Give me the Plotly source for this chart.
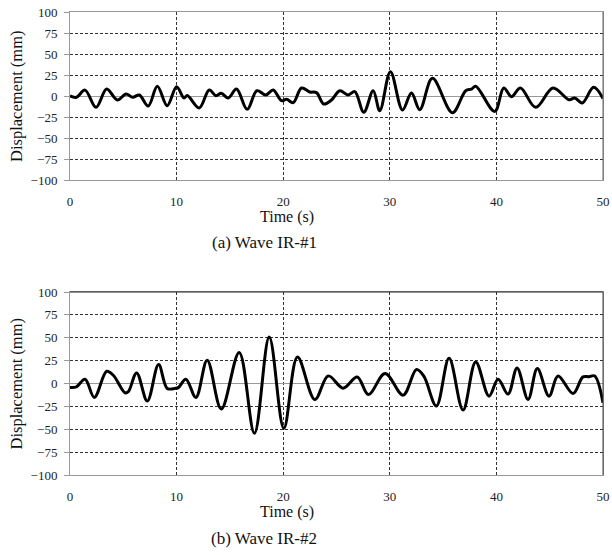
import plotly.graph_objects as go

# Wave IR-#1 (time s, displacement mm) - read from extrema
t1 = [0, 0.6, 1.41, 2.44, 3.44, 4.44, 5.25, 5.88, 6.5, 7.34, 8.19, 9.12, 10.0, 10.69, 11.0, 12.12,
      13.06, 13.69, 14.19, 14.84, 15.62, 16.62, 17.53, 18.37, 19.06, 19.84, 20.31, 20.94, 21.72,
      22.5, 23.12, 23.81, 24.53, 25.31, 26.09, 26.72, 27.56, 28.44, 29.06, 30.06, 31.19, 32.03,
      32.81, 34.0, 35.87, 37.12, 37.66, 38.06, 39.84, 40.69, 41.41, 42.25, 43.69, 45.31, 46.81,
      47.34, 48.06, 49.12, 50.0]
d1 = [0, -1.5, 7, -13.5, 8.3, -4.8, 2.4, -1.6, 1.2, -11.9, 11.5, -11.5, 11.1, -2.4, 0.5, -14.3,
      7.1, 0.4, 3.2, -2.4, 8.3, -15.9, 6.3, 1.2, 7.1, -5.6, -4, -7.9, 9.5,
      4.8, 4, -9.5, -4.8, 6.3, 1.2, 5.2, -19.4, 6.3, -17.5, 29, -16.7, 3.6,
      -16.3, 21, -19.8, 6.3, 8.3, 11.5, -18.3, 9.5, -0.8, 9.5, -13.5, 9.5, -4.4,
      -2.4, -8.3, 10.3, -3]

# Wave IR-#2
t2 = [0, 0.6, 1.41, 2.28, 3.44, 4.06, 5.16, 5.47, 6.25, 7.25, 8.31, 9.12, 9.84, 10.16, 10.87,
      11.81, 12.87, 14.19, 15.87, 17.3, 18.69, 20.06, 21.34, 22.97, 24.22, 25.62, 26.94, 28.0,
      29.56, 31.25, 32.5, 33.19, 34.37, 35.56, 36.87, 38.06, 39.31, 40.16, 41.09, 41.94, 42.97,
      43.84, 44.94, 45.78, 47.19, 48.12, 48.69, 49.22, 50.0]
d2 = [-4.3, -3.6, 4.7, -15.2, 13.4, 9, -10.1, -9, 11.6, -19.2, 20.7, -5.4, -5.4, -4.5, 4.7,
      -15.2, 25.4, -27.9, 34, -54.3, 50.7, -48.9, 29, -17.4, 8.3, -5.1, 7.2, -12,
      10.9, -12.7, 15.2, 8, -24.6, 27.6, -29, 23.6, -13.8, 4.7, -11.6, 17, -17.4,
      16.3, -13.8, 8.3, -10.9, 7.2, 7.4, 8.3, -21]

x_ticks = [0, 10, 20, 30, 40, 50]
y_ticks = [-100, -75, -50, -25, 0, 25, 50, 75, 100]
captions = ["(a) Wave IR-#1", "(b) Wave IR-#2"]
x_title = "Time (s)"
y_title = "Displacement (mm)"

FONT = "Liberation Serif"
fig = go.Figure()
fig.add_trace(go.Scatter(x=t1, y=d1, mode="lines", line=dict(color="black", width=3, shape="spline", smoothing=1),
                         xaxis="x", yaxis="y", showlegend=False))
fig.add_trace(go.Scatter(x=t2, y=d2, mode="lines", line=dict(color="black", width=3, shape="spline", smoothing=1),
                         xaxis="x2", yaxis="y2", showlegend=False))

W, H = 612, 555
xdom = [70 / W, 603 / W]
ydom1 = [1 - 180 / H, 1 - 12 / H]
ydom2 = [1 - 475 / H, 1 - 292 / H]

xa = dict(range=[0, 50], tickvals=x_ticks, showgrid=True, gridcolor="#333", griddash="3px,2px", gridwidth=1,
          zeroline=False, showline=True, linecolor="#999", linewidth=1, mirror=True, ticks="", automargin=False,
          ticklabelstandoff=9, tickfont=dict(family=FONT, size=13, color="#222"), domain=xdom)
ya = dict(range=[-100, 100], tickvals=y_ticks, showgrid=True, gridcolor="#333", griddash="3px,2px", gridwidth=1,
          zeroline=True, zerolinecolor="#999", zerolinewidth=1, showline=True, linecolor="#999", linewidth=1,
          mirror=True, ticks="outside", ticklen=5, tickcolor="#999", tickwidth=1, automargin=False,
          ticklabelstandoff=4, tickfont=dict(family=FONT, size=13, color="#222"))

fig.update_layout(
    width=W, height=H, margin=dict(l=0, r=0, t=0, b=0, autoexpand=False),
    paper_bgcolor="white", plot_bgcolor="white",
    xaxis=dict(xa, anchor="y"),
    yaxis=dict(ya, domain=ydom1, anchor="x"),
    xaxis2=dict(xa, anchor="y2"),
    yaxis2=dict(ya, domain=ydom2, anchor="x2"),
    shapes=[
        dict(type="line", xref="x2 domain", yref="y2 domain", x0=0, x1=1, y0=1, y1=1,
             line=dict(color="#222", width=1)),
        dict(type="line", xref="x2 domain", yref="y2 domain", x0=1, x1=1, y0=0, y1=1,
             line=dict(color="#444", width=1)),
        dict(type="line", xref="x domain", yref="y domain", x0=1, x1=1, y0=0, y1=1,
             line=dict(color="#666", width=1)),
    ],
)

anns = []
for i, (ytop, ybot) in enumerate([(12, 180), (292, 475)]):
    anns.append(dict(x=287 / W, y=1 - (ybot + 37) / H, xref="paper", yref="paper", text=x_title, showarrow=False,
                     font=dict(family=FONT, size=16, color="#111"), xanchor="center", yanchor="middle"))
    anns.append(dict(x=264 / W, y=1 - (ybot + 63) / H, xref="paper", yref="paper", text=captions[i], showarrow=False,
                     font=dict(family=FONT, size=17, color="#111"), xanchor="center", yanchor="middle"))
    anns.append(dict(x=16 / W, y=1 - ((ytop + ybot) / 2) / H, xref="paper", yref="paper", text=y_title,
                     showarrow=False, textangle=-90, font=dict(family=FONT, size=16.5, color="#111"),
                     xanchor="center", yanchor="middle"))
fig.update_layout(annotations=anns)

fig.write_html("out.html", config={"displayModeBar": False},
               post_script="document.body.style.margin='0';document.body.style.overflow='hidden';")
